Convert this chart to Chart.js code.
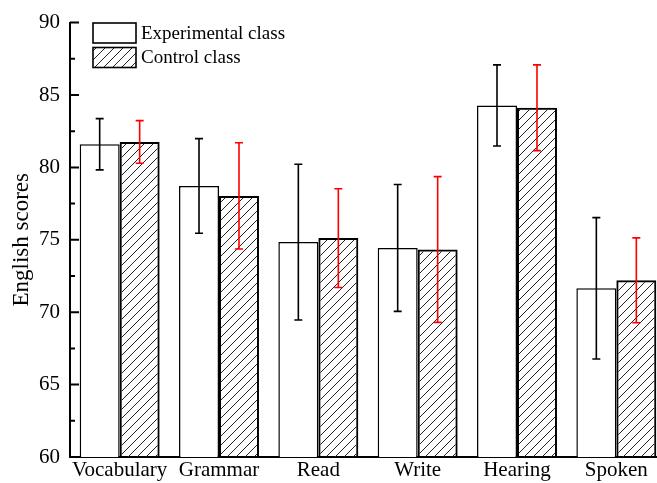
<!DOCTYPE html>
<html>
<head>
<meta charset="utf-8">
<script src="https://cdn.jsdelivr.net/npm/chart.js@4/dist/chart.umd.min.js"></script>
<style>
  html, body { margin: 0; padding: 0; background: #fff; overflow: hidden; }
  #wrap { width: 680px; height: 483px; }
</style>
</head>
<body>
<div id="wrap"><canvas id="scoreChart"></canvas></div>
<script>
// data
const categories = ['Vocabulary', 'Grammar', 'Read', 'Write', 'Hearing', 'Spoken'];
const expScores = [81.6, 78.72, 74.84, 74.44, 84.28, 71.65];
const expSd = [1.77, 3.27, 5.38, 4.38, 2.8, 4.88];
const ctrlScores = [81.76, 78.03, 75.12, 74.33, 84.12, 72.2];
const ctrlSd = [1.47, 3.67, 3.41, 5.03, 2.96, 2.93];
const yMajorTicks = [60, 65, 70, 75, 80, 85, 90];
const yMinorTicks = [62.5, 67.5, 72.5, 77.5, 82.5, 87.5];
const legendNames = ['Experimental class', 'Control class'];

const serif = "'Liberation Serif', 'Times New Roman', serif";

//Function for making the diagonal hatch used by the control class bars
function makeHatch() {
    let s = 9;
    let tile = document.createElement('canvas');
    tile.width = s;
    tile.height = s;
    let c = tile.getContext('2d');
    c.strokeStyle = '#222';
    c.lineWidth = 1;
    c.beginPath();
    c.moveTo(0, s); c.lineTo(s, 0);
    c.moveTo(-1, 1); c.lineTo(1, -1);
    c.moveTo(s - 1, s + 1); c.lineTo(s + 1, s - 1);
    c.stroke();
    return c.createPattern(tile, 'repeat');
}
const hatch = makeHatch();

//Plugin for inward ticks, error bars and the legend box
const extrasPlugin = {
    id: 'extras',
    afterDatasetsDraw(chart) {
        const ctx = chart.ctx;
        const y = chart.scales.y;
        const sets = [[expScores, expSd, '#000'], [ctrlScores, ctrlSd, '#ff0000']];
        sets.forEach((set, d) => {
            const meta = chart.getDatasetMeta(d);
            ctx.save();
            ctx.strokeStyle = set[2];
            ctx.lineWidth = 1.6;
            meta.data.forEach((bar, i) => {
                const top = y.getPixelForValue(set[0][i] + set[1][i]);
                const bot = y.getPixelForValue(set[0][i] - set[1][i]);
                ctx.beginPath();
                ctx.moveTo(bar.x, top); ctx.lineTo(bar.x, bot);
                ctx.moveTo(bar.x - 4, top); ctx.lineTo(bar.x + 4, top);
                ctx.moveTo(bar.x - 4, bot); ctx.lineTo(bar.x + 4, bot);
                ctx.stroke();
            });
            ctx.restore();
        });
    },
    afterDraw(chart) {
        const ctx = chart.ctx;
        const y = chart.scales.y;
        const left = chart.chartArea.left;
        ctx.save();
        ctx.strokeStyle = '#000';
        ctx.lineWidth = 2;
        ctx.beginPath();
        yMajorTicks.forEach(v => {
            const py = y.getPixelForValue(v);
            ctx.moveTo(left, py); ctx.lineTo(left + 9, py);
        });
        yMinorTicks.forEach(v => {
            const py = y.getPixelForValue(v);
            ctx.moveTo(left, py); ctx.lineTo(left + 5, py);
        });
        ctx.stroke();

        // legend
        const fills = ['#fff', hatch];
        ctx.font = '19px ' + serif;
        ctx.textBaseline = 'middle';
        ctx.fillStyle = '#000';
        legendNames.forEach((name, i) => {
            const bx = 93, by = 23 + i * 24.5, bw = 43, bh = 20;
            ctx.fillStyle = fills[i];
            ctx.fillRect(bx, by, bw, bh);
            ctx.lineWidth = 1.6;
            ctx.strokeStyle = '#000';
            ctx.strokeRect(bx, by, bw, bh);
            ctx.fillStyle = '#000';
            ctx.fillText(name, bx + bw + 5, by + bh / 2 + 1);
        });
        ctx.restore();
    }
};

const config = {
    type: 'bar',
    data: {
        labels: categories,
        datasets: [{
            label: legendNames[0],
            data: expScores,
            backgroundColor: '#fff',
            borderColor: '#000',
            borderWidth: 1.5,
            barPercentage: 1,
            categoryPercentage: 0.805
        }, {
            label: legendNames[1],
            data: ctrlScores,
            backgroundColor: hatch,
            borderColor: '#000',
            borderWidth: 2,
            barPercentage: 1,
            categoryPercentage: 0.805
        }]
    },
    options: {
        responsive: true,
        maintainAspectRatio: false,
        animation: false,
        events: [],
        layout: { padding: { top: 20, right: 14, left: 0, bottom: 0 } },
        plugins: {
            legend: { display: false },
            tooltip: { enabled: false }
        },
        scales: {
            x: {
                grid: { display: false, drawTicks: false },
                border: { display: true, color: '#000', width: 2 },
                ticks: { color: '#000', font: { family: serif, size: 21 }, padding: 1, maxRotation: 0 },
                afterFit(scale) { scale.height = 26; }
            },
            y: {
                min: 60,
                max: 90,
                grid: { display: false, drawTicks: false },
                border: { display: true, color: '#000', width: 2 },
                ticks: { stepSize: 5, color: '#000', font: { family: serif, size: 21 }, padding: 10 },
                title: {
                    display: true,
                    text: 'English scores',
                    color: '#000',
                    font: { family: serif, size: 23 },
                    padding: { top: 8, bottom: 0 }
                },
                afterFit(scale) { scale.width = 70; }
            }
        }
    },
    plugins: [extrasPlugin]
};

new Chart(document.getElementById('scoreChart'), config);
</script>
</body>
</html>
